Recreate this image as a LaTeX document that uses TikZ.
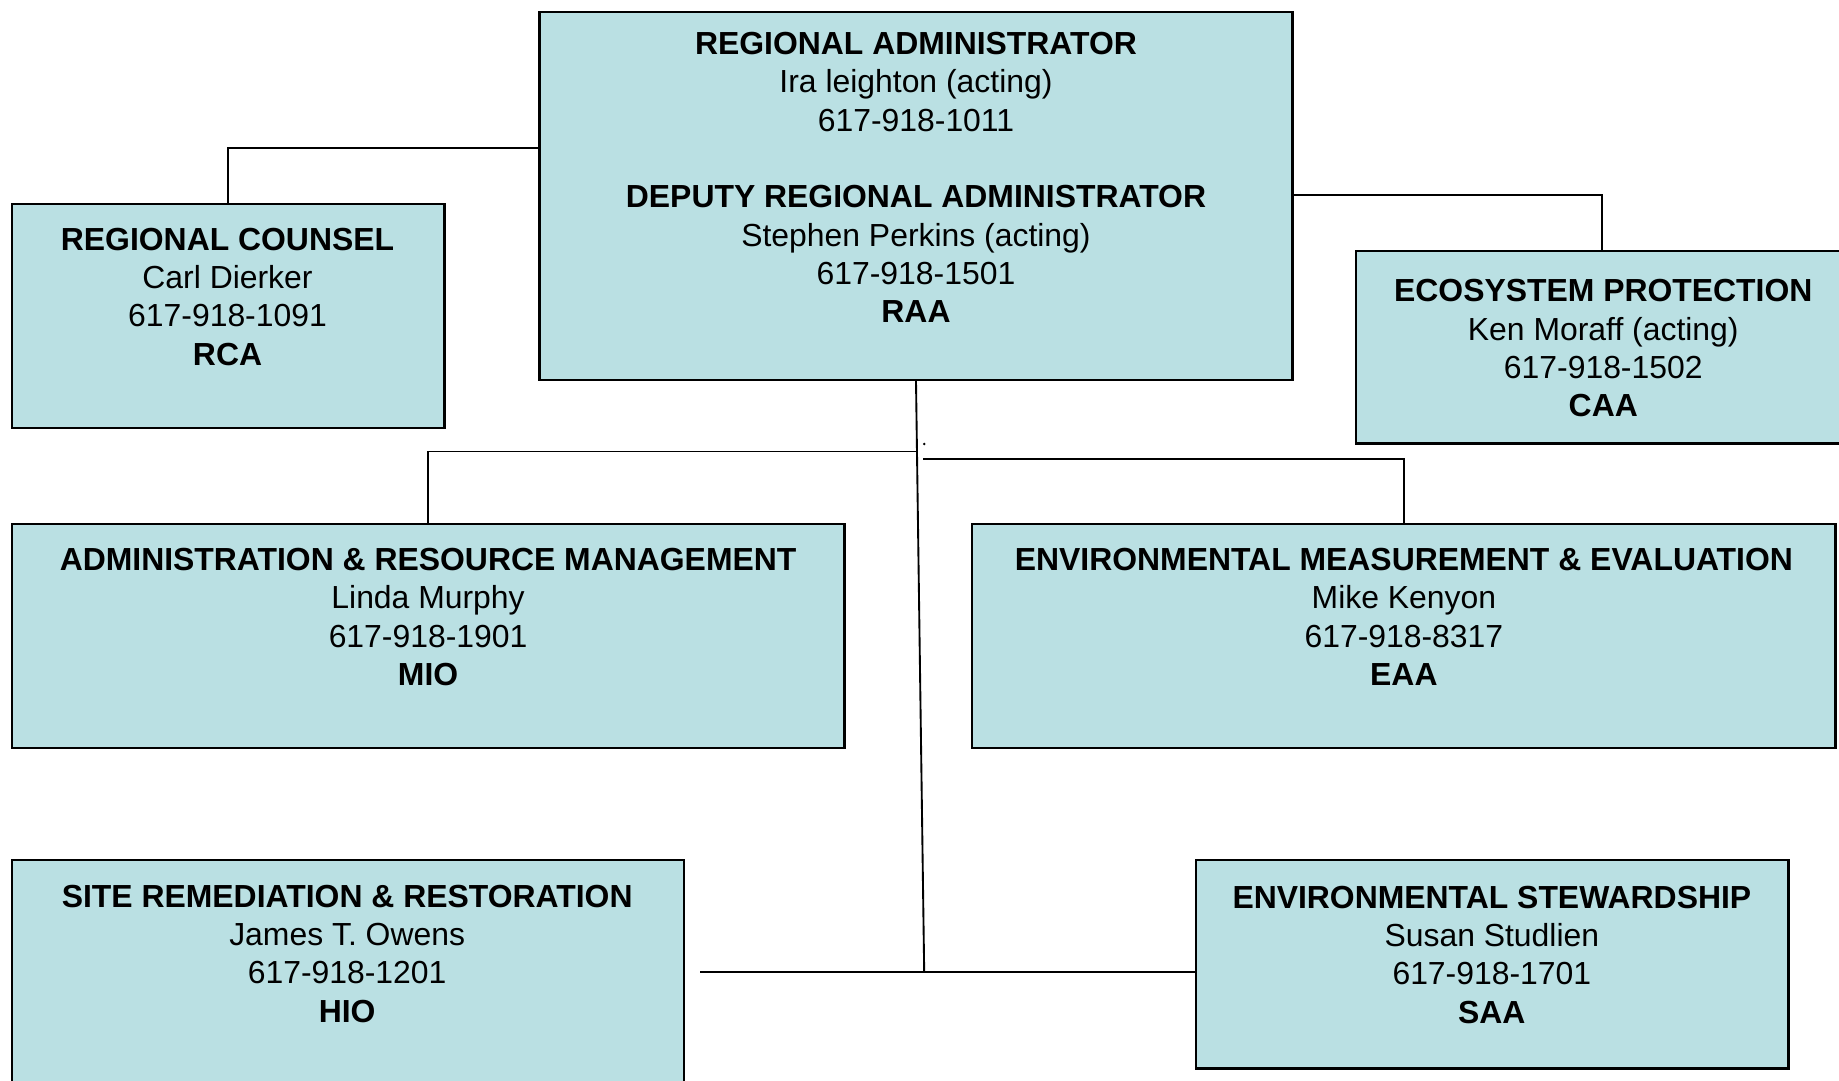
\documentclass[tikz,border=0pt]{standalone}
\usepackage{fontspec}
\setmainfont{Liberation Sans}
\definecolor{boxfill}{RGB}{186,224,227}
\begin{document}
\begin{tikzpicture}[x=0.5pt,y=-0.5pt,
  box/.style={draw=black,line width=1pt,fill=boxfill,rectangle,inner sep=0pt},
  txt/.style={align=center,inner sep=0pt,anchor=north,font=\fontsize{13.6}{16.35}\selectfont},
  conn/.style={draw=black,line width=0.8pt}]
\useasboundingbox (0,0) rectangle (1568,921);
\clip (0,0) rectangle (1568,921);
% boxes
\node[box,minimum width=321pt,minimum height=157pt] (ra) at (781,167) {};
\node[box,minimum width=184.5pt,minimum height=95.5pt] (rc) at (194.5,269.5) {};
\node[box,minimum width=210pt,minimum height=82pt] (ep) at (1366,296) {};
\node[box,minimum width=355pt,minimum height=95.5pt] (arm) at (365,542.5) {};
\node[box,minimum width=368pt,minimum height=95.5pt] (eme) at (1197,542.5) {};
\node[box,minimum width=286.5pt,minimum height=100pt] (srr) at (296.5,833) {};
\node[box,minimum width=252.5pt,minimum height=89pt] (es) at (1272.5,822) {};
% texts
\node[txt] (ra-t) at (781,27) {\textbf{REGIONAL ADMINISTRATOR}\\Ira leighton (acting)\\617-918-1011\\\mbox{}\\\textbf{DEPUTY REGIONAL ADMINISTRATOR}\\Stephen Perkins (acting)\\617-918-1501\\\textbf{RAA}};
\node[txt] (rc-t) at (194,194) {\textbf{REGIONAL COUNSEL}\\Carl Dierker\\617-918-1091\\\textbf{RCA}};
\node[txt] (ep-t) at (1367,238) {\textbf{ECOSYSTEM PROTECTION}\\Ken Moraff (acting)\\617-918-1502\\\textbf{CAA}};
\node[txt] (arm-t) at (365,467) {\textbf{ADMINISTRATION \& RESOURCE MANAGEMENT}\\Linda Murphy\\617-918-1901\\\textbf{MIO}};
\node[txt] (eme-t) at (1197,467) {\textbf{ENVIRONMENTAL MEASUREMENT \& EVALUATION}\\Mike Kenyon\\617-918-8317\\\textbf{EAA}};
\node[txt] (srr-t) at (296,754) {\textbf{SITE REMEDIATION \& RESTORATION}\\James T. Owens\\617-918-1201\\\textbf{HIO}};
\node[txt] (es-t) at (1272,755) {\textbf{ENVIRONMENTAL STEWARDSHIP}\\Susan Studlien\\617-918-1701\\\textbf{SAA}};
% connectors
\coordinate (trunkTop) at (781,324);
\coordinate (trunkBot) at (788,829);
\coordinate (jL) at (781,385);
\coordinate (jR) at (787,391.5);
\coordinate (srrEnd) at (597,829);
\draw[conn] (ra.west |- 0,126) -| (rc.north);
\draw[conn] (ra.east |- 0,166) -| (ep.north);
\draw[conn] (trunkTop) -- (trunkBot);
\draw[conn] (jL) -| (arm.north);
\draw[conn] (jR) -| (eme.north);
\draw[conn,line width=1pt] (srrEnd) -- (es.west |- srrEnd);
\fill[black] (788,378.6) circle (0.6pt);
\end{tikzpicture}
\end{document}
